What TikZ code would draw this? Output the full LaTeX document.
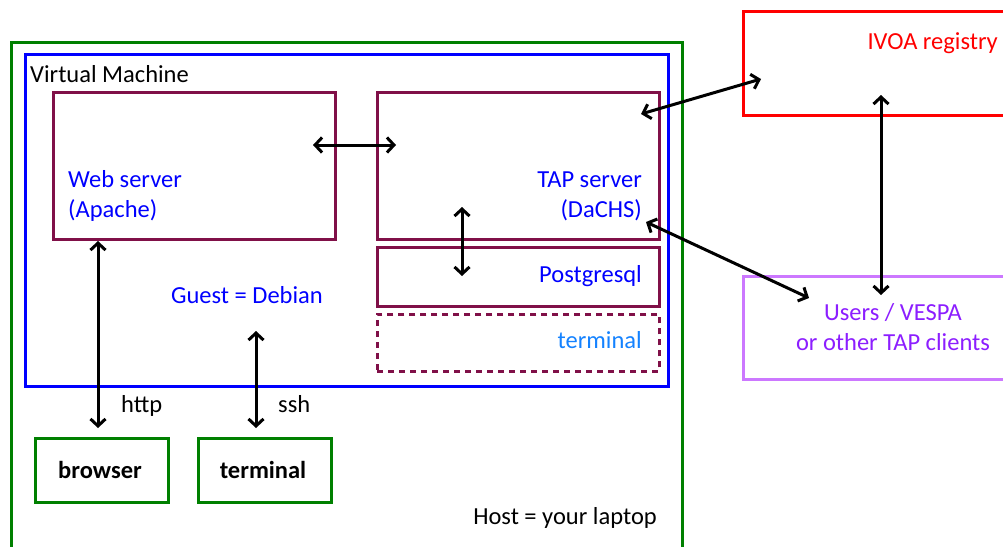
\documentclass[tikz,border=0pt]{standalone}
\usepackage{fontspec}
\setmainfont{Carlito}
\usetikzlibrary{arrows.meta}
\definecolor{hostgreen}{RGB}{0,128,0}
\definecolor{vmblue}{RGB}{0,0,255}
\definecolor{maroon}{RGB}{128,16,72}
\definecolor{regred}{RGB}{255,0,0}
\definecolor{userbox}{RGB}{204,120,255}
\definecolor{usertext}{RGB}{140,30,255}
\definecolor{termblue}{RGB}{20,130,255}
\begin{document}
\begin{tikzpicture}[x=1pt,y=-1pt,
  box/.style={draw=#1,line width=2.7pt,inner sep=0pt,anchor=north west},
  lbl/.style={inner sep=0pt,font=\fontsize{24.5}{30}\selectfont},
  arr/.style={line width=3pt,{Straight Barb[length=7pt,width=15pt]}-{Straight Barb[length=7pt,width=15pt]}}]
\useasboundingbox (0,0) rectangle (1003,546);
\clip (0,0) rectangle (1003,546);
% boxes
\node[box=hostgreen,minimum width=671pt,minimum height=540pt] (host) at (10,41) {};
\node[box=vmblue,minimum width=643pt,minimum height=332pt] (vm) at (24,53) {};
\node[box=maroon,minimum width=282pt,minimum height=147pt] (web) at (52,91) {};
\node[box=maroon,minimum width=282pt,minimum height=147pt] (tap) at (376,91) {};
\node[box=maroon,minimum width=282pt,minimum height=59pt] (pg) at (376,246) {};
\node[box=maroon,dash pattern=on 6pt off 5pt,minimum width=282pt,minimum height=57pt] (vterm) at (376,313) {};
\node[box=regred,minimum width=280pt,minimum height=104pt] (ivoa) at (742,10) {};
\node[box=userbox,minimum width=280pt,minimum height=103pt] (users) at (742,275) {};
\node[box=hostgreen,minimum width=133pt,minimum height=64pt] (browser) at (34,437) {};
\node[box=hostgreen,minimum width=133pt,minimum height=64pt] (hterm) at (197,437) {};
% texts
\node[lbl,anchor=base west] (tvm) at (30,82) {Virtual Machine};
\node[lbl,anchor=base west,text=vmblue] (tweb1) at (68,187) {Web server};
\node[lbl,anchor=base west,text=vmblue] (tweb2) at (68,217) {(Apache)};
\node[lbl,anchor=base east,text=vmblue] (ttap1) at (642,187) {TAP server};
\node[lbl,anchor=base east,text=vmblue] (ttap2) at (642,217) {(DaCHS)};
\node[lbl,anchor=base east,text=vmblue] (tpg) at (642,282) {Postgresql};
\node[lbl,anchor=base east,text=termblue] (tvterm) at (642,348) {terminal};
\node[lbl,anchor=base,text=vmblue] (tguest) at (247,303) {Guest = Debian};
\node[lbl,anchor=base east,text=regred] (tivoa) at (998,49) {IVOA registry};
\node[lbl,anchor=base,text=usertext] (tusers1) at (893,320) {Users / VESPA};
\node[lbl,anchor=base,text=usertext] (tusers2) at (893,350) {or other TAP clients};
\node[lbl,anchor=base west] (thttp) at (121,412) {http};
\node[lbl,anchor=base west] (tssh) at (278,412) {ssh};
\node[lbl,anchor=base,font=\fontsize{24.5}{30}\selectfont\bfseries] (tbrowser) at (100,478) {browser};
\node[lbl,anchor=base,font=\fontsize{24.5}{30}\selectfont\bfseries] (thterm) at (263,478) {terminal};
\node[lbl,anchor=base east] (thost) at (657,524) {Host = your laptop};
% connector end points
\coordinate (wt1) at (313,145); \coordinate (wt2) at (396,145);
\coordinate (wb1) at (98,241);  \coordinate (wb2) at (98,428);
\coordinate (ss1) at (256,331); \coordinate (ss2) at (256,428);
\coordinate (tp1) at (462,207); \coordinate (tp2) at (462,276);
\coordinate (ti1) at (641,114); \coordinate (ti2) at (761,79);
\coordinate (tu1) at (646,222); \coordinate (tu2) at (809,298);
\coordinate (iu1) at (881,95);  \coordinate (iu2) at (881,295);
\draw[arr] (wt1) -- (wt2);
\draw[arr] (wb1) -- (wb2);
\draw[arr] (ss1) -- (ss2);
\draw[arr] (tp1) -- (tp2);
\draw[arr] (ti1) -- (ti2);
\draw[arr] (tu1) -- (tu2);
\draw[arr] (iu1) -- (iu2);
\end{tikzpicture}
\end{document}
